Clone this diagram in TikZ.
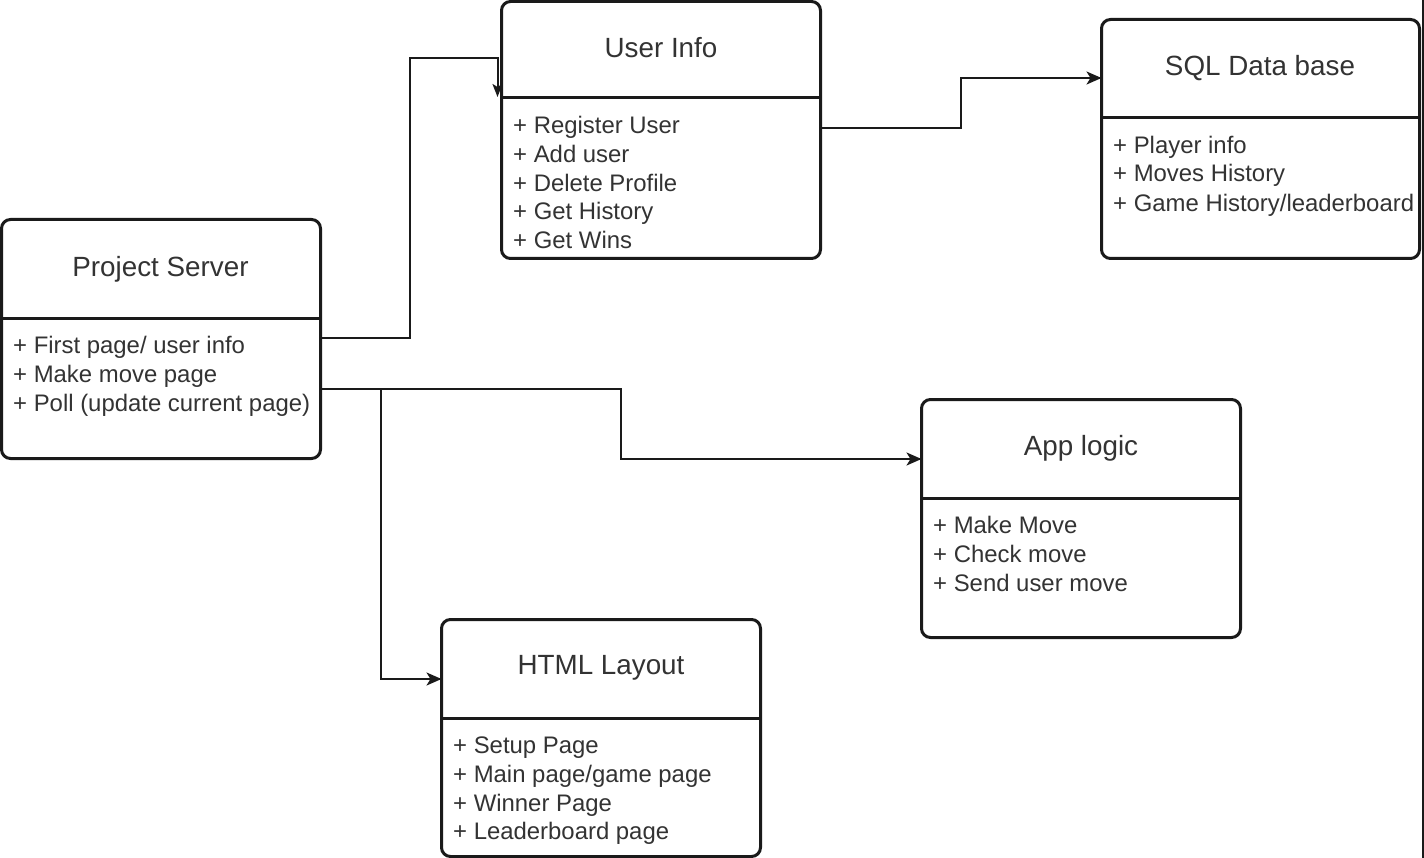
\documentclass[tikz,border=0pt]{standalone}
\usepackage{fontspec}
\setmainfont{Liberation Sans}
\usetikzlibrary{arrows.meta}
\definecolor{edge}{HTML}{1A1A1A}
\definecolor{txt}{HTML}{333333}
\tikzset{
  x=1pt, y=-1pt,
  umlbox/.style={draw=edge, line width=3pt, rounded corners=9pt, fill=white, anchor=north west, inner sep=0pt, outer sep=0pt},
  divider/.style={draw=edge, line width=3pt},
  titletext/.style={text=txt, font=\fontsize{27.8}{30}\selectfont, inner sep=0pt},
  itemtext/.style={text=txt, font=\fontsize{23.9}{29}\selectfont, inner sep=0pt, anchor=base west},
  conn/.style={draw=edge, line width=2pt},
  arrowconn/.style={conn, -{Stealth[length=15pt, width=13pt, inset=4pt]}},
  smallarrowconn/.style={conn, -{Stealth[length=13pt, width=10pt, inset=3pt]}}
}
\begin{document}
\begin{tikzpicture}
\useasboundingbox (0,0) rectangle (1424,858);
\fill[white] (0,0) rectangle (1424,858);

% Project Server
\node[umlbox, minimum width=319pt, minimum height=239pt] (ps) at (1.5,219.5) {};
\draw[divider] (ps.west |- 0,319) -- (ps.east |- 0,319);
\node[titletext] (pst) at (160.5,269) {Project Server};
\node[itemtext] (ps1) at (13,353.5) {+ First page/ user info};
\node[itemtext] (ps2) at (13,382.5) {+ Make move page};
\node[itemtext] (ps3) at (13,411.5) {+ Poll (update current page)};

% User Info
\node[umlbox, minimum width=319pt, minimum height=257pt] (ui) at (501.5,1.5) {};
\draw[divider] (ui.west |- 0,98) -- (ui.east |- 0,98);
\node[titletext] (uit) at (661,48) {User Info};
\node[itemtext] (ui1) at (513,133.5) {+ Register User};
\node[itemtext] (ui2) at (513,162.5) {+ Add user};
\node[itemtext] (ui3) at (513,191.5) {+ Delete Profile};
\node[itemtext] (ui4) at (513,219.5) {+ Get History};
\node[itemtext] (ui5) at (513,248.5) {+ Get Wins};

% SQL Data base
\node[umlbox, minimum width=318pt, minimum height=239pt] (sql) at (1101.5,19.5) {};
\draw[divider] (sql.west |- 0,118) -- (sql.east |- 0,118);
\node[titletext] (sqlt) at (1260,68) {SQL Data base};
\node[itemtext] (sql1) at (1113,153.5) {+ Player info};
\node[itemtext] (sql2) at (1113,181.5) {+ Moves History};
\node[itemtext] (sql3) at (1113,211.5) {+ Game History/leaderboard};

% App logic
\node[umlbox, minimum width=319pt, minimum height=238pt] (app) at (921.5,399.5) {};
\draw[divider] (app.west |- 0,498) -- (app.east |- 0,498);
\node[titletext] (appt) at (1081,448) {App logic};
\node[itemtext] (app1) at (933,533.5) {+ Make Move};
\node[itemtext] (app2) at (933,562.5) {+ Check move};
\node[itemtext] (app3) at (933,591.5) {+ Send user move};

% HTML Layout
\node[umlbox, minimum width=319pt, minimum height=237pt] (html) at (441.5,619.5) {};
\draw[divider] (html.west |- 0,718) -- (html.east |- 0,718);
\node[titletext] (htmlt) at (601,668) {HTML Layout};
\node[itemtext] (html1) at (453,753.5) {+ Setup Page};
\node[itemtext] (html2) at (453,782.5) {+ Main page/game page};
\node[itemtext] (html3) at (453,811.5) {+ Winner Page};
\node[itemtext] (html4) at (453,839.5) {+ Leaderboard page};

% connectors
\coordinate (br) at (381,389);
\draw[smallarrowconn] (ps.east |- 0,338) -- (410,338) -- (410,58) -- ([xshift=-4pt]ui.west |- 0,58) -- ([xshift=-4pt]ui.west |- 0,97);
\draw[arrowconn] (ui.east |- 0,128) -- (961,128) -- (961,78) -- (sql.west |- 0,78);
\draw[arrowconn] (ps.east |- 0,389) -- (621,389) -- (621,459) -- (app.west |- 0,459);
\draw[arrowconn] (br) -- (381,679) -- (html.west |- 0,679);

% right border line
\draw[draw=edge, line width=2.5pt] (1423,0) -- (1423,858);
\end{tikzpicture}
\end{document}
